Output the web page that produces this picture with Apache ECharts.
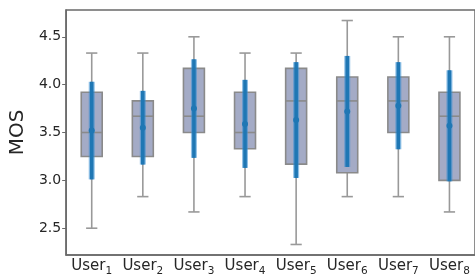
<!DOCTYPE html>
<html>
<head>
<meta charset="utf-8">
<script src="https://cdn.jsdelivr.net/npm/echarts@6/dist/echarts.min.js"></script>
<style>html,body{margin:0;padding:0;background:#fff;}#c{width:475px;height:277px;}</style>
</head>
<body>
<div id="c"></div>
<script>
const categories = ['1','2','3','4','5','6','7','8'];
const whiskerLow  = [2.50, 2.83, 2.67, 2.83, 2.33, 2.83, 2.83, 2.67];
const q1          = [3.25, 3.25, 3.50, 3.33, 3.17, 3.08, 3.50, 3.00];
const median      = [3.50, 3.67, 3.67, 3.50, 3.83, 3.83, 3.83, 3.67];
const q3          = [3.92, 3.83, 4.17, 3.92, 4.17, 4.08, 4.08, 3.92];
const whiskerHigh = [4.33, 4.33, 4.50, 4.33, 4.33, 4.67, 4.50, 4.50];
const means       = [3.52, 3.55, 3.75, 3.59, 3.63, 3.72, 3.78, 3.57];
const stds        = [0.51, 0.385, 0.515, 0.46, 0.605, 0.58, 0.455, 0.58];
const yTicks = [2.5, 3.0, 3.5, 4.0, 4.5];

const data = categories.map((c, i) => [i, whiskerLow[i], q1[i], median[i], q3[i], whiskerHigh[i], means[i], stds[i]]);

const FONT = 'DejaVu Sans';
const chart = echarts.init(document.getElementById('c'), null, {renderer: 'canvas'});

function renderItem(params, api) {
  const x = api.value(0);
  const lo = api.value(1), a = api.value(2), md = api.value(3), b = api.value(4), hi = api.value(5);
  const mn = api.value(6), sd = api.value(7);
  const band = api.size([1, 0])[0];
  const boxW = band * 0.41;
  const capW = band * 0.22;
  const pLo = api.coord([x, lo]), pA = api.coord([x, a]), pM = api.coord([x, md]), pB = api.coord([x, b]), pHi = api.coord([x, hi]);
  const pMn = api.coord([x, mn]), pEt = api.coord([x, mn + sd]), pEb = api.coord([x, mn - sd]);
  const cx = pA[0];
  const wStyle = {stroke: '#999999', lineWidth: 1.6};
  const bStyle = {stroke: '#8a8a8a', lineWidth: 1.6};
  return {
    type: 'group',
    children: [
      {type: 'line', shape: {x1: cx, y1: pLo[1], x2: cx, y2: pHi[1]}, style: wStyle},
      {type: 'line', shape: {x1: cx - capW / 2, y1: pLo[1], x2: cx + capW / 2, y2: pLo[1]}, style: wStyle},
      {type: 'line', shape: {x1: cx - capW / 2, y1: pHi[1], x2: cx + capW / 2, y2: pHi[1]}, style: wStyle},
      {type: 'rect', shape: {x: cx - boxW / 2, y: pB[1], width: boxW, height: pA[1] - pB[1]}, style: {fill: '#a4abc6', stroke: '#8a8a8a', lineWidth: 1.6}},
      {type: 'line', shape: {x1: cx - boxW / 2, y1: pM[1], x2: cx + boxW / 2, y2: pM[1]}, style: bStyle},
      {type: 'line', shape: {x1: cx, y1: pEb[1], x2: cx, y2: pEt[1]}, style: {stroke: 'rgba(52,140,210,0.55)', lineWidth: 6}},
      {type: 'line', shape: {x1: cx, y1: pEb[1], x2: cx, y2: pEt[1]}, style: {stroke: '#1f77b4', lineWidth: 3.6}},
      {type: 'circle', shape: {cx: cx, cy: pMn[1], r: 3}, style: {fill: '#1f77b4'}}
    ]
  };
}

chart.setOption({
  animation: false,
  backgroundColor: '#fff',
  grid: {left: 63, right: -4, top: 10, bottom: 19, show: true, borderColor: '#6a6a6a', borderWidth: 1.5, backgroundColor: 'transparent'},
  xAxis: {
    type: 'category', data: categories, boundaryGap: true,
    axisLine: {lineStyle: {color: '#6a6a6a', width: 1.5}},
    axisTick: {alignWithLabel: true, length: 4, lineStyle: {color: '#6a6a6a'}},
    axisLabel: {
      margin: 3, color: '#262626', fontFamily: FONT, interval: 0,
      formatter: v => '{a|User}{b|' + v + '}',
      rich: {
        a: {fontSize: 15, fontFamily: FONT, color: '#262626', lineHeight: 17},
        b: {fontSize: 10.5, fontFamily: FONT, color: '#262626', lineHeight: 11, padding: [10, 0, 0, 0]}
      }
    },
    splitLine: {show: false}
  },
  yAxis: {
    type: 'value', min: 2.22, max: 4.78,
    name: 'MOS', nameLocation: 'middle', nameGap: 35,
    nameTextStyle: {fontSize: 20, fontFamily: FONT, color: '#262626'},
    axisLine: {show: true, lineStyle: {color: '#6a6a6a', width: 1.5}},
    axisTick: {show: true, length: 4, customValues: yTicks, lineStyle: {color: '#6a6a6a'}},
    axisLabel: {customValues: yTicks, formatter: v => Number(v).toFixed(1), fontSize: 14, fontFamily: FONT, color: '#262626', margin: 5},
    splitLine: {show: false}
  },
  series: [{
    type: 'custom', renderItem: renderItem, data: data,
    encode: {x: 0, y: [1, 5]}, clip: false
  }]
});
</script>
</body>
</html>
